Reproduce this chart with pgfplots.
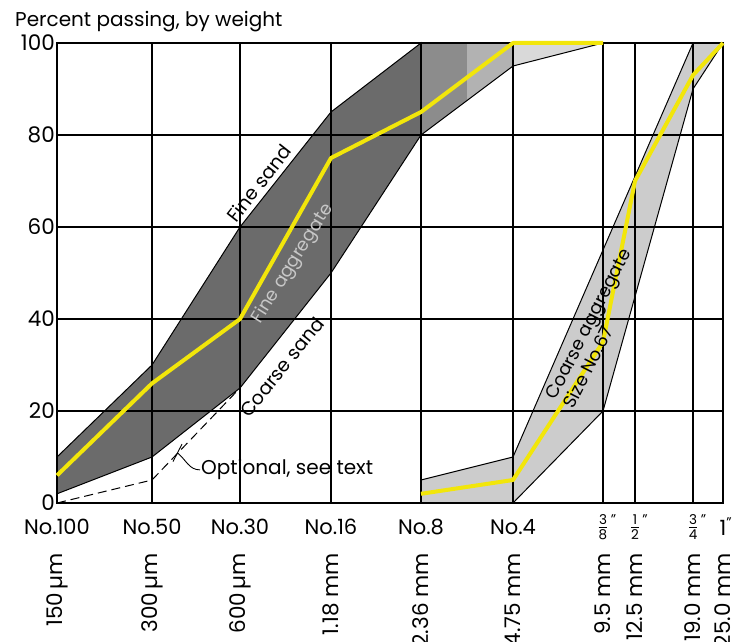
\documentclass[border=0pt]{standalone}
\usepackage{fontspec}
\setmainfont{Poppins}
\usepackage{pgfplots}
\pgfplotsset{compat=1.18}
\definecolor{yel}{RGB}{242,230,10}
\newcommand{\frc}[2]{$\frac{\mbox{\fontsize{13.5}{14}\selectfont #1}}{\mbox{\fontsize{13.5}{14}\selectfont #2}}$\rlap{\raisebox{8pt}{\fontsize{14}{14}\selectfont\,"}}}
\begin{document}
\fontsize{20}{24}\selectfont
\begin{tikzpicture}
\begin{axis}[
  at={(0pt,0pt)}, anchor=south west,
  set layers,
  scale only axis, width=666pt, height=460pt,
  xmin=0, xmax=666, ymin=0, ymax=100,
  clip=false,
  axis line style={line width=1.6pt},
  grid=major, major grid style={black, line width=1.2pt},
  major tick length=0pt,
  /pgf/number format/assume math mode=true,
  ytick={0,20,40,60,80,100},
  yticklabel style={font=\fontsize{21.5}{24}\selectfont, inner sep=2pt},
  xtick={0,95,183,274,364,456,546,578,636,666},
  xticklabels={{No.100},{No.50},{No.30},{No.16},{No.8},{No.4},{\frc{3}{8}},{\frc{1}{2}},{\frc{3}{4}},{1\rlap{\raisebox{8pt}{\fontsize{14}{14}\selectfont"}}}},
  xticklabel style={anchor=center, inner sep=0pt, font=\fontsize{21}{24}\selectfont},
  xticklabel shift=24pt,
  extra x ticks={0,95,183,274,364,456,546,578,636,666},
  extra x tick labels={{150\,µm},{300\,µm},{600\,µm},{1.18 mm},{2.36 mm},{4.75 mm},{9.5 mm},{12.5 mm},{19.0 mm},{25.0 mm}},
  extra x tick style={grid=none, xticklabel shift=50pt, xticklabel style={anchor=east, rotate=90, inner sep=0pt, font=\fontsize{21.5}{24}\selectfont}},
]
% fine aggregate band
\addplot[on layer=axis background, draw=black, line width=1pt, fill=black!58, mark=none]
  coordinates {(0,10) (95,30) (183,60) (274,85) (364,100) (364,80) (274,50) (183,25) (95,10) (0,2) (0,10)};
\addplot[on layer=axis background, draw=none, fill=black!45, mark=none]
  coordinates {(364,100) (410,100) (410,87.5) (364,80) (364,100)};
\addplot[on layer=axis background, draw=none, fill=black!30, mark=none]
  coordinates {(410,100) (456,100) (456,95) (410,87.5) (410,100)};
\addplot[on layer=axis background, draw=none, fill=black!15, mark=none]
  coordinates {(456,100) (546,100) (456,95) (456,100)};
\addplot[on layer=axis background, draw=black, line width=1pt, fill=none, mark=none]
  coordinates {(364,80) (456,95) (546,100)};
% coarse aggregate band
\addplot[on layer=axis background, draw=black, line width=1pt, fill=black!20, mark=none]
  coordinates {(364,5) (456,10) (546,55) (636,100) (666,100) (636,90) (546,20) (456,0) (364,0) (364,5)};
% optional dashed limit
\addplot[black, line width=1pt, dash pattern=on 9pt off 5pt, mark=none]
  coordinates {(0,0) (95,5) (183,25)};
% yellow grading curves
\addplot[yel, line width=4pt, mark=none, line join=round]
  coordinates {(0,6) (95,26) (183,40) (274,75) (364,85) (456,100) (546,100)};
\addplot[yel, line width=4pt, mark=none, line join=round]
  coordinates {(364,2) (456,5) (546,35) (578,70) (636,93) (666,100)};
% annotations
\node[rotate=52, font=\fontsize{19}{22}\selectfont] at (axis cs:202,69.5) {Fine sand};
\node[rotate=51, font=\fontsize{19}{22}\selectfont] at (axis cs:225,29.5) {Coarse sand};
\node[rotate=58, text=black!22, font=\fontsize{18}{21}\selectfont] at (axis cs:236,52) {Fine aggregate};
\node[anchor=west, font=\fontsize{20}{24}\selectfont, inner sep=1pt] at (axis cs:143,7.2) {Optional, see text};
\draw[line width=0.9pt] (axis cs:121,10.8) to[out=-40,in=180] (axis cs:143,7.2);
\draw[line width=0.9pt] (axis cs:116,9.0) -- (axis cs:125,12.8);
\node[rotate=63, align=left, font=\fontsize{18}{20}\selectfont, inner sep=0pt] at (axis cs:540,38) {Coarse aggregate\\Size No.67};
\node[anchor=base west, font=\fontsize{20}{24}\selectfont, inner sep=0pt, xshift=-42pt, yshift=16pt] at (rel axis cs:0,1) {Percent passing, by weight};
\end{axis}
\pgfresetboundingbox
\useasboundingbox (-57pt,-138pt) rectangle (675pt,503pt);
\end{tikzpicture}
\end{document}
